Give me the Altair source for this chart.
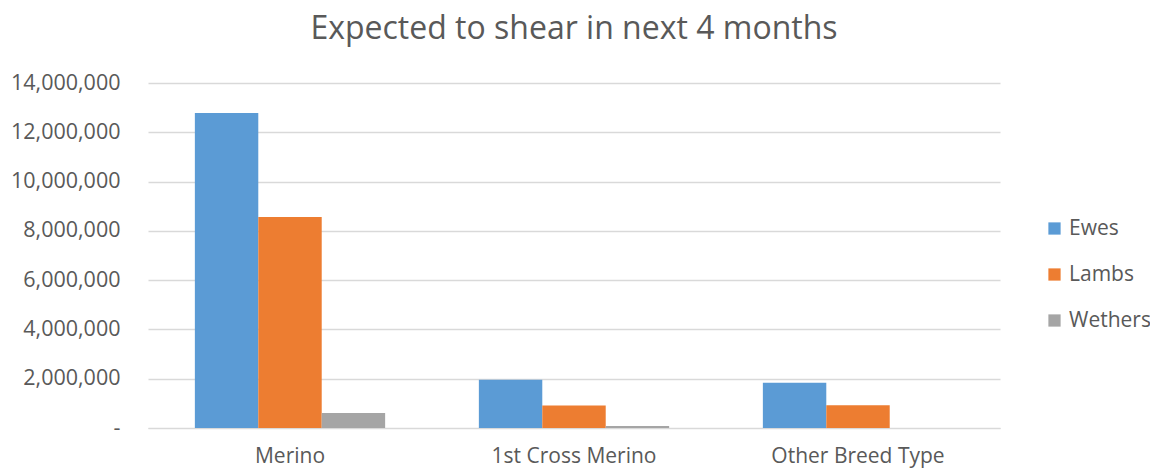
import altair as alt
import pandas as pd

categories = ["Merino", "1st Cross Merino", "Other Breed Type"]
series = ["Ewes", "Lambs", "Wethers"]
ewes = [12780000, 1960000, 1840000]
lambs = [8560000, 910000, 920000]
wethers = [610000, 80000, 0]
colors = ["#5b9bd5", "#ed7d31", "#a5a5a5"]

rows = []
for i, c in enumerate(categories):
    for s, vals in zip(series, [ewes, lambs, wethers]):
        rows.append({"Breed": c, "Type": s, "Value": vals[i]})
df = pd.DataFrame(rows)

FONT = "Open Sans"
TXT = "#595959"

chart = alt.Chart(df).mark_bar().encode(
    x=alt.X("Breed:N", sort=categories, title=None,
            scale=alt.Scale(paddingInner=0.33, paddingOuter=0.165),
            axis=alt.Axis(labelAngle=0, labelFontSize=21, labelColor=TXT, labelFont=FONT,
                          ticks=False, domainColor="#d9d9d9", labelPadding=17)),
    xOffset=alt.XOffset("Type:N", sort=series, scale=alt.Scale(paddingInner=0, paddingOuter=0)),
    y=alt.Y("Value:Q", title=None,
            scale=alt.Scale(domain=[0, 14000000], nice=False),
            axis=alt.Axis(values=[0, 2000000, 4000000, 6000000, 8000000, 10000000, 12000000, 14000000],
                          labelExpr="datum.value == 0 ? '-    ' : format(datum.value, ',')",
                          labelFontSize=21.5, labelColor=TXT, labelFont=FONT, ticks=False,
                          domain=False, gridColor="#d9d9d9", gridWidth=1.5, labelPadding=28)),
    color=alt.Color("Type:N", sort=series, scale=alt.Scale(domain=series, range=colors),
                    legend=alt.Legend(title=None, orient="none", legendX=896, legendY=135,
                                      symbolType="square", symbolSize=150, symbolStrokeWidth=0,
                                      labelFontSize=21, labelColor=TXT, labelFont=FONT,
                                      rowPadding=24, labelOffset=4)),
).properties(
    width=852, height=345,
    title=alt.TitleParams("Expected to shear in next 4 months", fontSize=32, font=FONT,
                          color=TXT, fontWeight="normal", anchor="middle", offset=26),
    autosize=alt.AutoSizeParams(type="none"),
    padding={"left": 148, "top": 83, "right": 150, "bottom": 41},
).configure_view(stroke=None)

chart.save("out.html", embed_options={"renderer": "svg", "actions": False})
